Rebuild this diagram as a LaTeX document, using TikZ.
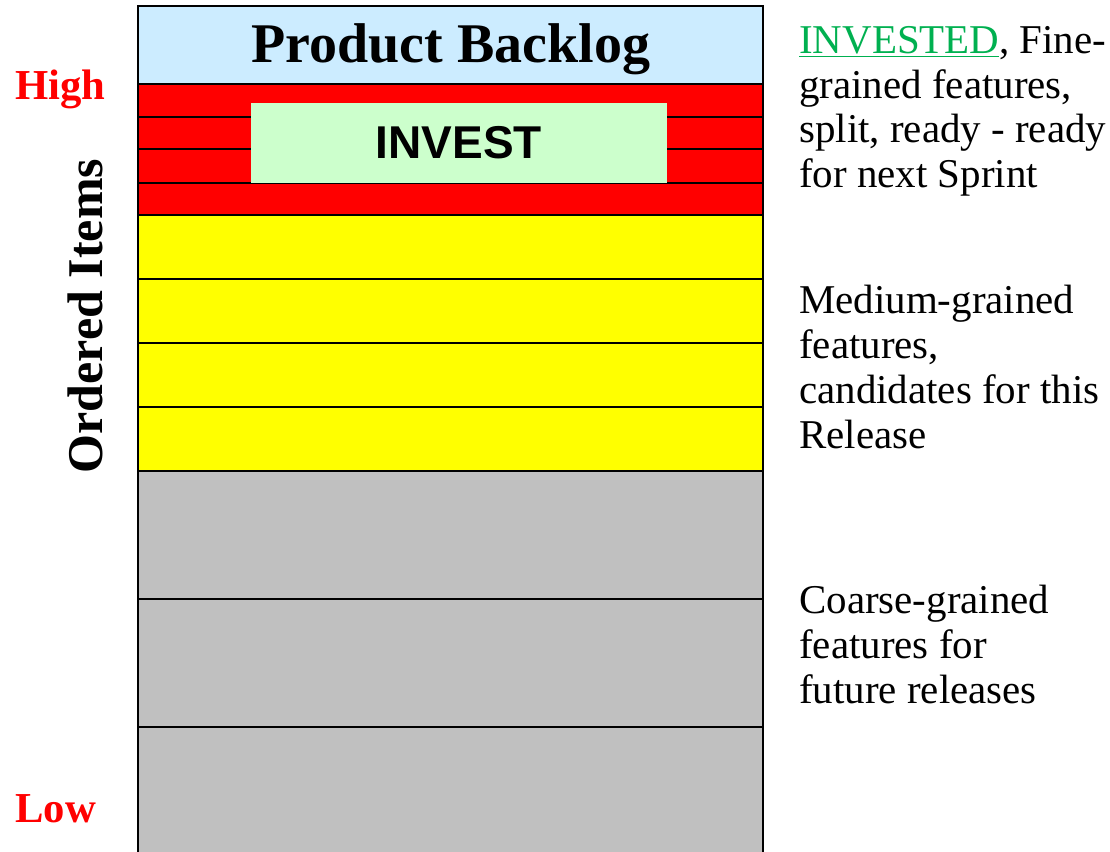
\documentclass[tikz,border=0pt]{standalone}
\usepackage{fontspec}
\setmainfont{Liberation Serif}
\newfontfamily\arialfont{Liberation Sans}
\usepackage{tikz}
\usetikzlibrary{positioning}
\definecolor{headerblue}{RGB}{204,236,255}
\definecolor{investgreen}{RGB}{204,255,204}
\definecolor{linkgreen}{RGB}{0,176,80}
\definecolor{finered}{RGB}{255,0,0}
\definecolor{mediumyellow}{RGB}{255,255,0}
\definecolor{coarsegray}{RGB}{192,192,192}
\tikzset{
	rowline/.style={draw=black, line width=1.6pt},
	note/.style={anchor=north west, inner sep=0pt, align=left, font=\fontsize{30.7}{33.6}\selectfont},
	priority/.style={anchor=base west, inner sep=0pt, text=finered, font=\fontsize{32}{36}\selectfont\bfseries}
}
\begin{document}
\begin{tikzpicture}[x=0.75pt, y=-0.75pt]
	\clip (0,0) rectangle (1110,852);
	% the backlog column
	\filldraw[fill=headerblue, rowline] (138,6) rectangle (763,84);
	\foreach \top/\bot/\col in {84/117/finered, 117/149/finered, 149/183/finered, 183/215/finered,
		215/279/mediumyellow, 279/343/mediumyellow, 343/407/mediumyellow, 407/471/mediumyellow,
		471/599/coarsegray, 599/727/coarsegray, 727/880/coarsegray}
		\filldraw[fill=\col, rowline] (138,\top) rectangle (763,\bot);
	\node[anchor=base, font=\fontsize{42}{46}\selectfont\bfseries] (title) at (451,63) {Product Backlog};
	\node[fill=investgreen, minimum width=312pt, minimum height=60pt, inner sep=0pt,
		font=\arialfont\fontsize{34.5}{38}\selectfont\bfseries] (invest) at (459,143) {INVEST};
	% left labels
	\node[priority] (high) at (15,100) {High};
	\node[priority] (low) at (15,822) {Low};
	\node[rotate=90, anchor=base, inner sep=0pt, font=\fontsize{37.5}{40}\selectfont\bfseries] (ordered) at (102,316) {Ordered Items};
	% right notes
	\node[note] (finenote) at (799,26) {\textcolor{linkgreen}{\underline{INVESTED}}, Fine-\\grained features,\\split, ready - ready\\for next Sprint};
	\node[note] (mediumnote) at (799,285) {Medium-grained\\features,\\candidates for this\\Release};
	\node[note] (coarsenote) at (799,585) {Coarse-grained\\features for\\future releases};
\end{tikzpicture}
\end{document}
